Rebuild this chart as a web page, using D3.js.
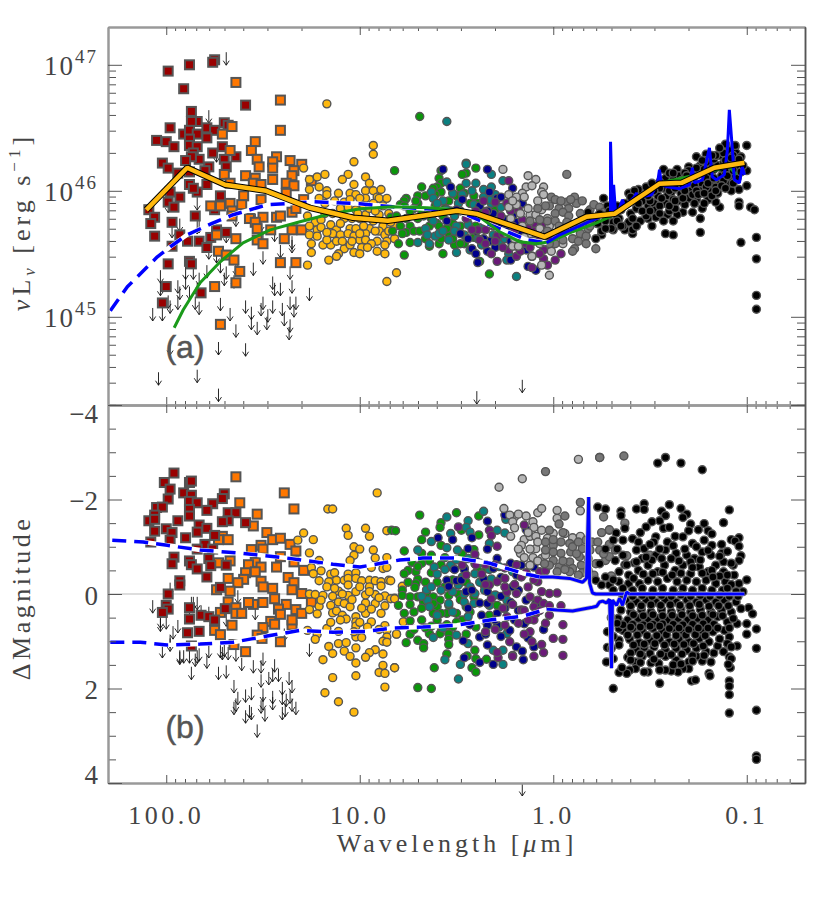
<!DOCTYPE html>
<html>
<head>
<meta charset="utf-8">
<script src="https://cdn.jsdelivr.net/npm/d3@7"></script>
<style>
body { margin: 0; background: #fff; }
text { font-family: "Liberation Serif", serif; fill: #444; }
</style>
</head>
<body>
<div id="chart"></div>
<script>
// all points are [log10 wavelength (um), value]; value is log10 vLv in panel a, delta mag in panel b
const redA = [[1.75,47.04],[1.76,47.02],[1.88,47.00],[1.99,46.95],[1.91,46.81],[1.59,46.68],[1.87,46.63],[1.84,46.55],[1.87,46.55],[1.98,46.50],[1.70,46.54],[1.68,46.52],[1.91,46.45],[1.88,46.48],[1.84,46.45],[1.79,46.50],[1.75,46.48],[1.79,46.42],[1.88,46.41],[2.05,46.40],[2.00,46.39],[1.96,46.35],[1.88,46.36],[1.84,46.35],[1.86,46.30],[1.71,46.35],[1.76,46.30],[1.64,46.27],[1.70,46.25],[1.83,46.25],[1.87,46.27],[1.90,46.24],[2.02,46.22],[1.99,46.18],[1.69,46.19],[1.78,46.19],[1.80,46.16],[1.94,46.14],[1.88,46.15],[1.88,46.05],[1.79,46.05],[1.84,45.99],[1.86,46.02],[1.98,45.99],[1.93,45.95],[1.99,45.91],[1.72,45.96],[1.96,45.87],[2.09,45.85],[1.75,45.85],[2.06,45.79],[1.85,45.80],[2.08,45.74],[1.97,45.75],[2.06,45.64],[1.93,45.65],[1.83,45.60],[1.89,45.60],[1.79,45.55],[1.77,45.63],[1.69,45.67],[1.99,45.42],[1.88,45.44],[1.87,45.42],[2.00,45.24],[2.02,45.11],[1.82,45.19],[1.74,45.69],[1.97,45.56]];
const orangeA = [[1.64,46.86],[1.41,46.72],[1.41,46.48],[1.66,46.51],[1.71,46.45],[1.54,46.39],[1.56,46.32],[1.67,46.32],[1.43,46.27],[1.36,46.24],[1.53,46.25],[1.52,46.19],[1.45,46.23],[1.45,46.18],[1.30,46.21],[1.34,46.16],[1.35,46.12],[1.45,46.09],[1.59,46.12],[1.54,46.10],[1.70,46.13],[1.38,46.06],[1.34,46.04],[1.25,46.08],[1.55,46.06],[1.51,46.05],[1.67,46.06],[1.60,45.96],[1.51,45.93],[1.38,45.98],[1.29,45.93],[1.67,45.90],[1.61,45.89],[1.77,45.88],[1.66,45.84],[1.35,45.83],[1.33,45.86],[1.57,45.78],[1.50,45.79],[1.43,45.79],[1.41,45.80],[1.54,45.75],[1.53,45.70],[1.46,45.69],[1.35,45.69],[1.30,45.69],[1.39,45.62],[1.74,45.65],[1.64,45.62],[1.53,45.61],[1.50,45.58],[1.73,45.52],[1.69,45.49],[1.65,45.45],[1.62,45.36],[1.41,45.43],[1.33,45.43],[1.75,45.24],[1.64,45.27],[1.72,44.94],[1.66,45.80],[1.72,45.88]];
const yellowA = [[1.17,46.69],[1.03,46.23],[1.29,46.18],[1.26,46.09],[1.22,46.11],[1.18,46.13],[1.06,46.13],[1.09,46.09],[1.03,46.05],[1.26,46.01],[1.21,46.03],[1.17,46.0],[1.17,45.97],[1.11,45.98],[1.05,45.98],[1.02,45.97],[1.21,45.94],[1.18,45.90],[1.08,45.91],[1.05,45.93],[1.06,45.87],[1.02,45.85],[1.27,45.80],[1.23,45.75],[1.20,45.77],[1.15,45.73],[1.12,45.69],[1.05,45.70],[1.02,45.70],[1.26,45.72],[1.22,45.69],[1.20,45.71],[1.26,45.65],[1.22,45.64],[1.14,45.66],[1.10,45.65],[1.06,45.66],[1.03,45.64],[1.25,45.58],[1.19,45.57],[1.15,45.57],[1.17,45.61],[1.12,45.60],[1.08,45.54],[1.05,45.57],[1.03,45.51],[1.25,45.51],[1.11,45.50],[1.12,45.48],[1.16,45.45],[1.27,45.41],[1.0,45.61],[.93,46.36],[.93,46.29],[.97,46.11],[.95,46.06],[.97,46.0],[.93,46.0],[.89,46.01],[.91,45.95],[.97,45.94],[.90,45.94],[.86,45.94],[.93,45.90],[1.0,45.94],[.88,45.88],[.97,45.81],[.90,45.81],[1.0,45.78],[.93,45.76],[.88,45.72],[.95,45.70],[.82,45.72],[.90,45.68],[.97,45.66],[.87,45.65],[1.0,45.66],[.97,45.61],[.91,45.60],[.86,45.60],[.82,45.62],[.94,45.58],[.99,45.55],[.96,45.55],[.87,45.57],[.91,45.52],[.87,45.50],[.81,45.35],[.86,45.28],[1.13,45.92],[1.10,45.86],[1.14,45.82],[1.08,45.78],[1.18,45.82],[1.04,45.78],[1.01,45.82],[.98,45.88],[.95,45.86],[.85,45.82],[1.10,45.74],[1.17,45.67],[1.04,45.60],[.98,45.72],[.92,45.68],[.85,45.68],[1.0,45.50],[1.09,45.60],[.92,45.84],[.84,45.75]];
const greenA = [[.69,46.59],[.82,46.16],[.58,46.16],[.40,46.18],[.45,46.22],[.59,46.10],[.68,46.03],[.58,46.06],[.60,46.03],[.58,45.99],[.70,45.96],[.76,45.94],[.77,45.92],[.70,45.90],[.61,45.97],[.54,45.92],[.48,46.02],[.45,46.14],[.47,46.13],[.46,45.98],[.41,45.96],[.39,45.90],[.79,45.89],[.72,45.86],[.61,45.88],[.56,45.86],[.79,45.72],[.74,45.72],[.76,45.67],[.72,45.68],[.69,45.68],[.60,45.74],[.59,45.72],[.84,45.79],[.80,45.58],[.74,45.59],[.77,45.49],[.64,45.56],[.59,45.58],[.57,45.50],[.51,45.57],[.46,45.58],[.54,45.66],[.40,45.72],[.44,45.74],[.33,45.34],[.38,45.44],[.30,45.85],[.77,45.88],[.66,45.82],[.52,45.74],[.62,46.02],[.66,45.96],[.71,45.92],[.74,45.84],[.68,45.84],[.63,45.78],[.57,45.80],[.53,45.84],[.50,45.96],[.43,45.90],[.37,45.84],[.64,45.72],[.55,45.70],[.48,45.72],[.41,45.63],[.66,45.62],[.58,45.62],[.52,45.62],[.48,45.58],[.70,45.78],[.76,45.78],[.81,45.80],[.78,45.66],[.83,45.68]];
const tealA = [[.55,46.55],[.63,45.99],[.62,45.94],[.55,46.07],[.45,46.21],[.45,46.06],[.40,46.06],[.32,46.13],[.32,46.03],[.26,46.08],[.57,45.92],[.49,45.90],[.41,45.89],[.32,45.90],[.27,45.87],[.51,45.80],[.66,45.70],[.65,45.65],[.61,45.64],[.59,45.66],[.50,45.72],[.64,45.58],[.70,45.59],[.54,45.61],[.50,45.51],[.44,45.73],[.37,45.57],[.28,45.58],[.23,45.50],[.24,45.45],[.19,45.32],[.43,45.53],[.33,45.93],[.36,46.01],[.52,45.98],[.60,45.90],[.55,45.85],[.47,45.97],[.42,46.0],[.36,45.95],[.30,45.97],[.62,45.76],[.57,45.68],[.51,45.68],[.46,45.65],[.39,45.62],[.34,45.78],[.67,45.80],[.31,45.65],[.25,45.62],[.48,45.84],[.37,45.70]];
const navyA = [[.57,46.17],[.34,46.17],[.53,46.03],[.21,46.02],[.33,45.99],[.47,45.93],[.16,45.90],[.29,45.94],[.55,45.76],[.36,45.76],[.31,45.82],[.21,45.80],[.33,45.60],[.42,45.54],[.40,45.50],[.39,45.43],[.29,45.64],[.22,45.45],[.09,45.37],[.13,45.40],[.14,45.53],[.48,45.66],[.26,45.70],[.17,45.66],[.50,45.85],[.43,45.80],[.38,45.88],[.34,45.84],[.27,45.95],[.25,45.77],[.44,45.62],[.36,45.62],[.30,45.55],[.22,45.60],[.40,45.68],[.19,45.75],[.16,45.62],[.28,45.72],[.34,45.52],[.24,45.68]];
const purpleA = [[.23,46.08],[.36,45.92],[.30,45.91],[.24,45.90],[.35,45.83],[.45,45.78],[.39,45.69],[.35,45.69],[.42,45.69],[.29,45.64],[.26,45.66],[.38,45.61],[.21,45.72],[.32,45.50],[.29,45.44],[.23,45.53],[.19,45.56],[.19,45.48],[.14,45.58],[.09,45.72],[.11,45.48],[.05,45.53],[.05,45.46],[-.01,45.45],[-.04,45.50],[.11,45.39],[.03,45.41],[.10,45.68],[.16,45.77],[.06,45.73],[.40,45.84],[.33,45.76],[.31,45.72],[.27,45.80],[.23,45.74],[.20,45.68],[.26,45.55],[.18,45.62],[.13,45.70],[.08,45.62],[.12,45.55],[.07,45.50],[.03,45.62],[.35,45.58],[.30,45.60],[.17,45.52],[.22,45.84],[.18,45.85]];
const lightGreyA = [[.26,46.17],[.13,46.12],[.09,46.09],[.14,46.03],[.11,46.04],[.05,46.03],[.06,45.99],[.05,45.97],[.16,45.98],[.23,45.97],[.19,45.95],[.23,45.87],[.19,45.89],[.12,45.81],[.17,45.82],[.09,45.81],[.03,45.78],[.02,45.72],[.07,45.70],[-.03,45.66],[.21,45.56],[.18,45.56],[.11,45.48],[.06,45.41],[.02,45.33],[-.05,45.58],[-.01,45.66],[.21,45.92],[.15,45.95],[.13,45.86],[.08,45.92],[.06,45.85],[.16,45.72],[.22,45.78],[.12,45.66],[.07,45.58],[.01,45.52],[.15,45.63],[.10,45.60],[.04,45.66],[.20,45.62],[.24,45.66]];
const midGreyA = [[-.07,46.13],[-.11,45.95],[.01,45.95],[-.01,45.93],[-.07,45.91],[.02,45.88],[-.03,45.86],[-.08,45.86],[-.12,45.90],[-.01,45.82],[-.05,45.83],[-.08,45.80],[.03,45.76],[-.01,45.76],[.07,45.77],[.12,45.76],[-.10,45.73],[-.14,45.66],[-.17,45.64],[-.22,45.54],[-.11,45.54],[-.10,45.52],[-.05,45.61],[-.19,45.85],[-.21,45.89],[-.24,45.87],[-.20,45.77],[-.26,45.83],[-.28,45.80],[-.15,45.92],[-.18,45.70],[-.16,45.78],[.04,45.88],[.08,45.86],[-.04,45.92],[-.09,45.93],[-.14,45.82],[.03,45.68],[-.03,45.72],[-.07,45.75],[.05,45.60],[-.01,45.58],[-.10,45.62],[-.14,45.74],[-.19,45.72],[-.23,45.74],[.02,45.58],[-.06,45.68],[-.17,45.58],[-.13,45.6]];
const blackA = [[-1.0,46.36],[-.94,46.35],[-.89,46.37],[-.74,46.27],[-.79,46.29],[-.57,46.17],[-.64,46.17],[-.70,46.19],[-1.0,46.16],[-1.0,46.04],[-.96,46.01],[-.96,45.91],[-.96,45.88],[-1.02,45.87],[-1.04,45.85],[-1.05,45.63],[-.97,45.59],[-1.05,45.46],[-1.05,45.17],[-1.05,45.06],[-.86,45.87],[-.84,45.91],[-.76,45.78],[-.76,45.67],[-.62,45.65],[-.58,45.66],[-.72,45.83],[-.67,45.83],[-.64,45.81],[-.59,45.81],[-.62,45.76],[-.57,45.76],[-.53,45.79],[-.51,45.72],[-.49,45.78],[-.45,45.76],[-.41,45.66],[-.37,45.69],[-.31,45.69],[-.25,45.65],[-.22,45.62],
[-.24,45.82],[-.23,45.74],[-.25,45.68],[-.26,45.94],[-.31,45.75],[-.30,45.70],[-.32,45.82],[-.39,45.98],[-.38,45.90],[-.40,45.82],[-.39,45.75],[-.41,45.69],[-.48,46.03],[-.47,45.95],[-.49,45.88],[-.48,45.80],[-.53,46.03],[-.54,45.96],[-.52,45.90],[-.53,45.85],[-.58,46.10],[-.57,46.02],[-.59,45.96],[-.58,45.90],[-.60,45.84],[-.65,46.12],[-.64,46.05],[-.66,45.98],[-.65,45.92],[-.63,45.86],[-.70,46.16],[-.69,46.08],[-.71,46.0],[-.70,45.94],[-.76,46.20],[-.75,46.13],[-.77,46.05],[-.76,46.0],[-.74,45.93],[-.77,45.86],[-.81,46.22],[-.80,46.14],[-.82,46.07],[-.81,46.0],[-.80,45.93],[-.86,46.28],[-.85,46.20],[-.87,46.12],[-.86,46.05],[-.85,45.98],[-.91,46.32],[-.90,46.25],[-.92,46.18],[-.91,46.10],[-.90,46.05],[-.92,46.0],[-.945,46.30],[-.95,46.2],[-.94,46.12],
[-.44,45.93],[-.43,45.86],[-.35,45.85],[-.34,45.78],[-.44,46.01],[-.51,45.99],[-.55,46.07],[-.62,46.09],[-.61,45.99],[-.62,45.93],[-.67,46.02],[-.68,45.89],[-.73,46.11],[-.73,46.04],[-.72,45.97],[-.78,46.17],[-.79,46.10],[-.79,46.03],[-.83,46.25],[-.83,46.17],[-.84,46.03],[-.88,46.30],[-.88,46.22],[-.89,46.15],[-.88,46.08],[-.93,46.28],[-.94,46.22],[-.97,46.27],[-.28,45.88],[-.20,45.78],[-.18,45.83],
[-.27,45.76],[-.29,45.84],[-.33,45.88],[-.36,45.72],[-.43,45.72],[-.46,45.84],[-.46,45.92],[-.42,46.0],[-.50,45.84],[-.50,45.92],[-.51,46.06],[-.55,45.88],[-.56,45.94],[-.55,45.82],[-.60,45.88],[-.60,46.0],[-.61,46.06],[-.60,46.14],[-.63,45.92],[-.63,46.02],[-.66,46.08],[-.67,45.94],[-.68,46.0],[-.68,46.14],[-.72,46.12],[-.73,45.9],[-.74,46.18],[-.74,46.0],[-.75,45.97],[-.78,45.98],[-.78,45.9],[-.78,46.24],[-.80,46.06],[-.82,46.18],[-.82,45.96],[-.83,46.1],[-.84,46.0],[-.84,46.28],[-.87,46.18],[-.87,46.04],[-.89,46.24],[-.89,46.02],[-.90,46.12],[-.92,46.26],[-.93,46.16],[-.93,46.06],[-.95,46.1],[-.96,46.25],[-.97,46.15],[-.98,46.2],[-.94,46.36],[-.86,46.34],[-.82,46.28],[-.77,46.24],[-.69,46.12],[-.62,46.14],[-.55,46.02],[-.52,46.0],[-.49,45.96],[-.44,45.9],[-.40,45.95],[-.37,45.9],[-.33,45.76],[-.27,45.7],[-.41,45.78],[-.35,45.72]];
const arrowsA = [[1.69,47.10],[1.78,46.64],[1.74,46.33],[1.84,45.95],[1.99,45.93],[1.93,45.78],[1.83,45.77],[1.97,45.73],[1.84,45.76],[1.64,45.82],[1.54,45.82],[1.51,45.78],[1.44,45.70],[1.50,45.68],[1.35,45.64],[1.41,45.57],[1.35,45.61],[1.50,45.52],[1.36,45.40],[1.78,45.56],[1.74,45.53],[1.69,45.69],[1.64,45.43],[1.55,45.43],[1.63,45.44],[1.69,45.40],[2.03,45.37],[1.90,45.40],[1.86,45.40],[1.79,45.41],[1.72,45.45],[1.70,45.35],[1.65,45.33],[1.45,45.32],[1.35,45.29],[1.41,45.27],[1.44,45.27],[1.26,45.23],[2.03,45.27],[1.94,45.29],[1.93,45.24],[1.99,45.17],[1.90,45.32],[1.83,45.35],[1.84,45.27],[1.94,45.16],[1.88,45.24],[1.85,45.16],[1.83,45.12],[1.72,45.15],[1.67,45.07],[1.59,45.13],[1.56,45.08],[1.50,45.16],[1.51,45.11],[1.45,45.13],[1.475,45.06],[1.40,45.11],[1.36,45.16],[1.33,45.16],[1.34,45.10],[1.39,45.03],[1.48,45.0],[1.56,45.0],[1.53,44.96],[1.64,44.94],[1.36,44.98],[1.365,44.92],[2.07,45.07],[2.02,45.07],[1.98,45.13],[1.98,44.80],[1.73,44.80],[1.59,44.79],[2.04,44.56],[1.84,44.58],[1.73,44.43],[.395,44.41],[.16,44.50]];

const redB = [[1.96,-2.56],[2.01,-2.36],[1.88,-2.36],[1.87,-2.39],[1.98,-2.22],[1.91,-2.14],[1.99,-2.01],[1.87,-2.09],[1.88,-1.96],[1.84,-1.93],[1.76,-1.91],[1.70,-2.12],[1.71,-2.02],[2.05,-1.83],[2.02,-1.84],[1.88,-1.79],[1.79,-1.77],[1.68,-1.72],[1.64,-1.72],[2.06,-1.67],[2.09,-1.55],[2.06,-1.58],[1.94,-1.55],[1.88,-1.65],[1.59,-1.51],[1.68,-1.55],[1.71,-1.53],[2.0,-1.38],[1.97,-1.30],[2.06,-1.33],[1.83,-1.46],[1.79,-1.39],[1.75,-1.24],[1.90,-1.19],[1.98,-1.14],[1.84,-1.31],[2.08,-1.10],[1.80,-1.05],[1.76,-.95],[1.84,-.95],[1.96,-.78],[1.97,-.64],[1.88,-.70],[1.87,-.62],[1.84,-.53],[1.78,-.75],[1.77,-.60],[1.69,-.61],[1.79,-.36],[1.93,-.28],[1.93,-.19],[1.99,0],[1.72,-.14],[2.0,.24],[1.99,.32],[2.02,.39],[1.88,.29],[1.88,.53],[1.82,.45],[1.78,.48],[1.75,.55],[1.695,.31],[1.89,.82],[1.83,.79],[1.87,1.10]];
const orangeB = [[1.64,-2.48],[1.39,-2.14],[1.34,-1.80],[1.62,-1.93],[1.53,-1.69],[1.55,-1.44],[1.48,-1.30],[1.45,-1.15],[1.41,-1.18],[1.36,-1.05],[1.33,-.91],[1.51,-1.03],[1.50,-.95],[1.56,-.94],[1.71,-1.22],[1.68,-1.15],[1.73,-1.15],[1.41,-.79],[1.43,-.57],[1.34,-.68],[1.67,-.70],[1.73,-.66],[1.54,-.67],[1.575,-.62],[1.51,-.57],[1.54,-.47],[1.59,-.45],[1.60,-.31],[1.68,-.33],[1.63,-.24],[1.51,-.27],[1.50,-.15],[1.29,-.50],[1.37,-.35],[1.34,-.24],[1.35,-.09],[1.45,-.12],[1.74,-.09],[1.67,-.06],[1.30,-.01],[1.25,.17],[1.44,.10],[1.50,.18],[1.55,.22],[1.575,.18],[1.68,.17],[1.64,.29],[1.64,.41],[1.61,.41],[1.38,.22],[1.42,.32],[1.41,.43],[1.33,.33],[1.30,.41],[1.72,.39],[1.66,.66],[1.46,.58],[1.44,.64],[1.50,.71],[1.35,.66],[1.35,.55],[1.75,.77],[1.72,.86],[1.53,.87],[1.505,.94],[1.41,1.01],[1.65,1.07],[1.59,1.22]];
const yellowB = [[.91,-2.14],[1.165,-1.80],[1.14,-1.80],[1.29,-1.29],[1.07,-1.39],[.97,-1.39],[.86,-1.34],[1.06,-1.24],[.95,-1.22],[1.24,-1.15],[1.32,-1.14],[1.03,-1.0],[1.0,-.95],[.93,-.93],[1.26,-.87],[1.03,-.82],[1.05,-.71],[.92,-.76],[.86,-.77],[1.21,-.71],[1.25,-.56],[1.20,-.49],[1.24,-.43],[1.15,-.42],[1.13,-.45],[.94,-.56],[.88,-.54],[.86,-.56],[1.06,-.42],[1.02,-.45],[1.21,-.28],[1.12,-.29],[1.08,-.29],[1.06,-.33],[1.02,-.33],[.99,-.28],[.95,-.29],[.92,-.28],[.89,-.26],[.85,-.29],[1.16,-.26],[1.17,-.15],[1.06,-.19],[.95,-.15],[.89,-.17],[1.11,-.06],[1.26,0],[1.23,.01],[1.19,.03],[1.06,.03],[1.02,-.05],[.92,.01],[.87,.04],[.82,.09],[1.21,.26],[1.20,.13],[1.15,.24],[1.11,.17],[1.08,.20],[1.05,.27],[.97,.19],[.92,.20],[.87,.25],[1.26,.33],[1.22,.42],[1.14,.40],[1.12,.36],[1.09,.45],[1.02,.48],[.97,.41],[.89,.41],[1.07,.53],[1.02,.59],[.94,.59],[.96,.70],[1.02,.68],[.87,.67],[1.17,.73],[1.27,.77],[1.22,.85],[1.11,.79],[1.02,.91],[.99,.92],[.86,.77],[.86,.91],[.81,.85],[1.23,.96],[.88,1.0],[.86,1.02],[1.16,1.11],[1.11,1.05],[1.07,1.03],[1.08,1.21],[1.02,1.14],[1.14,1.26],[1.05,1.32],[.92,1.18],[.95,1.24],[.88,1.27],[.97,1.34],[1.19,1.39],[1.02,1.46],[.88,1.51],[.90,1.66],[.87,1.68],[.82,1.56],[1.14,1.77],[1.02,1.73],[.87,1.97],[1.18,2.09],[1.11,2.28],[1.03,2.50],[.78,-.165],[.775,.59],[.81,.85],[.82,1.56],[.84,.1],[.82,.1],[1.0,-.15],[.97,.02],[1.13,-.12],[1.09,0],[1.04,.12],[1.14,.05],[.99,.3],[.9,.08],[.94,.32],[1.0,.6],[1.1,.55],[1.15,.6],[1.03,.8],[.9,.75],[.95,-.05],[.84,-.28]];
const greenB = [[.69,-1.67],[.50,-1.72],[.385,-1.65],[.58,-1.51],[.585,-1.41],[.66,-1.31],[.835,-1.35],[.815,-1.34],[.68,-1.15],[.385,-1.25],[.475,-1.35],[.77,-.91],[.68,-.86],[.63,-.82],[.58,-1.03],[.56,-.77],[.41,-.94],[.73,-.67],[.64,-.70],[.75,-.50],[.77,-.43],[.71,-.47],[.70,-.31],[.71,-.22],[.715,-.14],[.78,-.08],[.78,.03],[.74,.06],[.80,.24],[.74,.22],[.70,.06],[.655,-.01],[.62,.06],[.67,.17],[.64,.24],[.585,.13],[.54,.03],[.49,0],[.60,.27],[.55,.41],[.62,.41],[.58,.41],[.77,.41],[.72,.38],[.74,.57],[.68,.55],[.63,.68],[.52,.70],[.74,.85],[.64,.84],[.585,.84],[.54,.84],[.76,1.03],[.70,.98],[.67,1.05],[.67,1.14],[.54,.96],[.54,1.07],[.405,1.19],[.55,1.27],[.445,1.31],[.40,1.37],[.345,1.38],[.615,1.56],[.42,1.56],[.40,1.65],[.70,1.98],[.63,2.0],[.41,.06],[.43,.38],[.39,-.50],[.345,-.54],[.405,-.64],[.29,.24],[.50,.41],[.45,.27],[.68,-.65],[.63,-.45],[.58,-.62],[.52,-.55],[.47,-.85],[.66,-.25],[.60,-.25],[.56,-.15],[.52,-.30],[.45,-.25],[.75,-.25],[.68,.30],[.60,.55],[.55,.65],[.47,.55],[.66,.72],[.58,.70],[.50,.6],[.72,.75],[.45,.85],[.40,.7],[.36,-.2],[.33,.45],[.70,-.58],[.48,.12],[.62,.2],[.54,.24]];
const tealB = [[.55,-1.63],[.36,-1.75],[.44,-1.55],[.53,-1.28],[.45,-1.41],[.43,-1.31],[.63,-1.11],[.55,-.98],[.495,-.93],[.245,-1.58],[.29,-1.35],[.25,-1.29],[.33,-1.07],[.70,-.93],[.615,-.57],[.53,-.61],[.44,-.75],[.405,-.43],[.21,-.47],[.655,-.09],[.63,-.15],[.65,.13],[.54,.2],[.58,-.08],[.355,-.08],[.405,-.01],[.43,-.15],[.24,.13],[.46,.17],[.64,.27],[.62,.92],[.50,.87],[.44,1.05],[.56,1.39],[.48,1.49],[.31,1.19],[.26,1.19],[.26,1.49],[.49,1.80],[.24,.84],[.33,.24],[.49,-.19],[.47,-.36],[.41,.2],[.60,-.42],[.56,-.52],[.50,-.72],[.46,-.55],[.38,-.65],[.33,-.52],[.28,-.58],[.52,-.05],[.46,0],[.38,-.25],[.32,-.32],[.30,.02],[.60,.45],[.52,.38],[.44,.48],[.36,.55],[.28,.7],[.68,.05],[.57,.72]];
const navyB = [[.34,-1.54],[.25,-1.67],[.14,-1.36],[.595,-1.19],[.52,-1.15],[.42,-1.19],[.34,-.95],[.44,-.96],[.29,-.75],[.51,-.52],[.31,-.54],[.165,-.61],[.10,-.57],[.55,-.29],[.54,-.16],[.50,-.28],[.475,-.29],[.45,-.05],[.38,.19],[.34,.20],[.21,-.15],[.18,-.08],[.14,.13],[.29,.41],[.15,.63],[.29,.66],[.34,.66],[.05,.75],[.465,.99],[.225,.77],[.13,.93],[.38,.91],[.34,1.08],[.10,1.12],[.19,1.12],[.16,1.21],[.155,1.39],[.21,1.30],[.31,1.49],[.38,1.45],[.46,1.35],[.46,-.52],[.40,-.70],[.36,-.32],[.27,-.35],[.22,-.65],[.19,-.4],[.42,-.08],[.34,-.05],[.27,.05],[.22,.18],[.18,.35],[.37,.45],[.30,.55],[.25,.3],[.2,.55],[.44,.3],[.09,.2],[.35,.85],[.27,.9],[.43,.65]];
const purpleB = [[.15,-1.46],[.33,-1.35],[.49,-1.42],[.32,-1.24],[.29,-1.01],[.47,-.61],[.405,-.84],[.45,-.40],[.37,-.42],[.29,-.26],[.25,-.33],[.165,-.36],[.07,-.47],[.04,-.49],[.08,-.26],[.33,-.19],[.24,-.04],[.19,-.01],[.12,.06],[.08,.13],[.02,-.01],[-.02,-.02],[.10,.27],[.05,.2],[-.04,.25],[.165,.34],[.09,.41],[.35,.80],[.25,.66],[.10,.55],[.04,.62],[-.05,.65],[.12,.80],[0,.94],[-.05,.96],[.11,1.01],[.06,1.07],[.05,1.24],[.21,1.32],[-.05,1.30],[.10,1.32],[.285,1.35],[.29,1.24],[.225,1.01],[.24,.48],[.40,-.62],[.35,-.62],[.30,-.62],[.25,-.55],[.19,-.62],[.14,-.45],[.10,-.30],[.35,-.2],[.25,-.15],[.20,-.2],[.13,-.15],[.06,-.05],[.32,.1],[.26,.3],[.21,.22],[.15,.35],[.13,.55],[.07,.35],[.02,.25],[.30,.75],[.18,.62],[.15,.85],[.02,.45]];
const lightGreyB = [[.28,-2.26],[.16,-2.44],[-.13,-2.85],[-.24,-2.89],[.255,-1.81],[.20,-1.63],[.18,-1.69],[.14,-1.65],[.08,-1.72],[.06,-1.81],[-.02,-1.77],[-.02,-1.60],[.225,-1.67],[.21,-1.53],[.105,-1.53],[.10,-1.41],[.15,-1.15],[.22,-1.22],[.12,-1.22],[.09,-1.22],[0,-1.28],[-.06,-1.28],[-.10,-1.19],[-.14,-1.22],[.165,-1.03],[.17,-.86],[.09,-.96],[.06,-.75],[.08,-1.10],[.15,-.77],[.105,-.77],[.12,-.61],[-.14,-1.76],[.2,-1.4],[.13,-1.3],[.06,-1.35],[.18,-.95],[.03,-1.18],[.12,-.95],[.04,-.82],[.08,-.7]];
const midGreyB = [[.04,-2.59],[-.03,-1.48],[-.06,-1.65],[-.14,-1.94],[.02,-1.35],[.04,-1.10],[0,-1.03],[-.04,-1.10],[-.085,-1.07],[-.15,-.96],[-.09,-.89],[-.04,-.86],[0,-.89],[.04,-.93],[0,-.71],[-.03,-.57],[-.085,-.68],[-.135,-.79],[.02,-.61],[-.10,-.54],[-.145,-.61],[-.02,-.47],[-.085,-.47],[.045,-.64],[-.17,-1.14],[-.19,-.93],[-.26,-1.63],[-.29,-1.35],[-.24,-.93],[-.27,-.71],[-.30,-.36],[-.22,-.64],[-.24,-2.89],[-.365,-2.92],[-.37,-1.50],[-.29,-1.36],[-.50,-.82],[-.38,-.81],[-.30,-.38],[-.32,-.93],[-.29,-.79],[0,-1.15],[-.05,-1.3],[-.1,-1.0],[-.13,-1.1],[-.05,-.7],[-.12,-.85],[-.18,-.75],[-.2,-1.1],[-.15,-.45],[-.23,-1.1],[-.26,-.85],[-.29,-1.05],[-.25,-1.3],[-.21,-.4],[-.06,-.52],[-.13,-.4],[-.18,-.5]];
const blackB = [[-.54,-2.77],[-.58,-2.89],[-.66,-2.77],[-.77,-2.63],[-.47,-1.91],[-.43,-1.80],[-.47,-1.79],[-.23,-1.84],[-.27,-1.80],[-.35,-1.75],[-.35,-1.66],[-.60,-1.89],[-.56,-1.75],[-.58,-1.66],[-.66,-1.81],[-.69,-1.69],[-.67,-1.62],[-.91,-1.78],[-.88,-1.51],[-.55,-1.55],[-.51,-1.53],[-.71,-1.48],[-.78,-1.49],[-.75,-1.36],[-.80,-1.34],[-.82,-1.27],[-.48,-1.42],[-.57,-1.39],[-.60,-1.41],[-.70,-1.34],[-.37,-1.39],[-.325,-1.29],[-.45,-1.30],[-.63,-1.22],[-.67,-1.21],[-.53,-1.21],[-.92,-1.15],[-.96,-1.19],[-.94,-1.12],[-.96,-1.01],[-.87,-1.05],[-.82,-1.03],[-.78,-1.14],[-.72,-1.07],[-.59,-1.10],[-.52,-1.10],[-.41,-1.17],[-.36,-1.14],[-.31,-1.14],[-.97,-.81],[-.87,-.86],[-.96,-.71],[-.93,-.61],[-.88,-.68],[-.815,-.82],[-.77,-.89],[-.73,-.75],[-.69,-.82],[-.635,-.86],[-.58,-.93],[-.53,-.82],[-.47,-.96],[-.43,-.93],[-.36,-.82],[-.32,-.71],[-.24,-.64],[-1.0,-.30],[-.88,-.47],[-.935,-.40],[-.96,-.22],[-.84,-.61],[-.80,-.47],[-.755,-.57],[-.71,-.43],[-.67,-.61],[-.63,-.50],[-.575,-.61],[-.54,-.47],[-.49,-.61],[-.44,-.50],[-.39,-.40],[-.34,-.47],[-.27,-.36],[-.22,-.29],[-.89,-.26],[-.84,-.22],[-.79,-.29],[-.74,-.26],[-.69,-.29],[-.64,-.26],[-.59,-.33],[-.54,-.26],[-.49,-.29],[-.445,-.22],[-.39,-.22],[-.34,-.26],[-.29,-.19],[-.25,-.19],
[-.875,-.08],[-.82,-.08],[-.77,-.12],[-.72,-.08],[-.67,-.12],[-.62,-.08],[-.565,-.12],[-.515,-.08],[-.46,-.12],[-.41,-.08],[-.36,-.12],[-.31,-.08],
[-.945,.17],[-.885,.13],[-.84,.17],[-.79,.12],[-.74,.17],[-.69,.12],[-.635,.17],[-.58,.12],[-.53,.17],[-.48,.12],[-.43,.17],[-.375,.13],
[-1.01,.29],[-.97,.31],[-.92,.38],[-.87,.34],[-.815,.38],[-.76,.33],[-.71,.38],[-.66,.33],[-.61,.38],[-.56,.33],[-.505,.38],[-.455,.33],[-.40,.38],[-.35,.34],
[-1.0,.63],[-.95,.63],[-.90,.59],[-.85,.48],[-.80,.55],[-.745,.52],[-.695,.55],[-.645,.52],[-.59,.55],[-.54,.52],[-.49,.55],[-.44,.52],[-.385,.55],[-.335,.52],
[-1.05,.74],[-1.0,.85],[-.885,.77],[-.825,.80],[-.77,.77],[-.72,.73],[-.67,.78],[-.62,.73],[-.565,.78],[-.515,.73],[-.46,.78],[-.41,.73],[-.36,.77],[-.34,.73],[-.28,.80],
[-.805,1.01],[-.755,.94],[-.70,1.01],[-.65,.96],[-.60,1.01],[-.55,.96],[-.50,.98],[-.445,1.03],[-.395,.96],[-.34,.98],[-.91,.91],[-.90,1.05],[-.95,1.10],[-.92,1.12],
[-1.05,1.15],[-.88,1.22],[-.79,1.22],[-.74,1.15],[-.69,1.19],[-.635,1.15],[-.58,1.19],[-.52,1.12],[-.47,1.13],[-.43,1.19],[-.34,1.08],[-.28,1.13],
[-.91,1.33],[-.92,1.37],[-.815,1.44],[-.77,1.42],[-.74,1.32],[-.70,1.44],[-.635,1.40],[-.58,1.32],[-.545,1.47],[-.505,1.46],[-.46,1.32],[-.425,1.44],[-.385,1.34],[-.31,1.37],[-.275,1.44],
[-.915,1.56],[-.905,1.49],[-.805,1.68],[-.81,1.73],[-.70,1.58],[-.67,1.58],[-.645,1.65],[-.61,1.63],[-.58,1.61],[-.55,1.61],[-.49,1.65],[-.47,1.65],[-.425,1.58],[-.395,1.61],[-.38,1.68],[-.34,1.66],[-.355,1.56],
[-.31,2.0],[-.55,1.89],[-.715,1.84],[-.735,1.82],[-.91,1.84],[-.91,1.95],[-.91,2.13],[-.91,2.52],[-1.05,2.46],[-1.05,3.43],[-1.05,3.50],[-.91,.72],[-.93,.52],[-1.03,.42],
[-.46,-.75],[-.51,-.72],[-.56,-.75],[-.61,-.75],[-.65,-.70],[-.71,-.68],[-.76,-.72],[-.82,-.50],[-.86,-.38],[-.92,-.20],[-.98,-.05],[-.945,-.05],[-.90,-.12],[-.42,-.66],[-.37,-.62],[-.31,-.30],[-.415,-.33],[-.465,-.42],[-.515,-.43],[-.565,-.46],[-.615,-.40],[-.66,-.44],[-.72,-.56],[-.77,-.44],[-.825,-.36],
[-.36,.05],[-.41,.05],[-.46,.03],[-.51,.05],[-.56,.03],[-.61,.05],[-.66,.02],[-.71,.05],[-.76,.03],[-.81,.05],[-.86,.03],[-.91,.05],[-.955,.05],
[-.40,.25],[-.455,.25],[-.505,.23],[-.555,.24],[-.605,.23],[-.655,.24],[-.705,.25],[-.755,.22],[-.805,.26],[-.855,.25],[-.905,.25],
[-.415,.44],[-.465,.46],[-.515,.44],[-.565,.46],[-.615,.45],[-.665,.44],[-.72,.46],[-.77,.45],[-.825,.44],[-.875,.46],
[-.36,.65],[-.41,.64],[-.465,.65],[-.515,.64],[-.565,.63],[-.62,.64],[-.67,.65],[-.72,.64],[-.775,.63],[-.83,.64],
[-.385,.87],[-.435,.87],[-.485,.88],[-.535,.88],[-.585,.86],[-.635,.88],[-.685,.87],[-.735,.86],[-.785,.88],
[-.415,1.08],[-.47,1.06],[-.525,1.05],[-.575,1.08],[-.625,1.06],[-.675,1.07],[-.725,1.05],[-.775,1.1],[-.40,1.25],[-.45,1.27],[-.5,1.26],[-.555,1.27],[-.61,1.28],[-.665,1.27],[-.72,1.3],
[-.38,-.62],[-.43,-.68],[-.48,-.78],[-.55,-.95],[-.62,-1.02],[-.68,-.95],[-.74,-1.0],[-.8,-.92],[-.86,-.8],[-.44,-1.1],[-.5,-1.05],[-.33,-.95],[-.27,-.95],[-.9,-.9],[-.92,-.65],[-.9,-.4],[-.3,.5],[-.33,.62],[-.31,.9],[-.3,1.15],[-.4,1.4],[-.45,1.45],[-.52,1.38],[-.62,1.5],[-.66,1.48],[-.72,1.42],[-.78,1.3],[-.83,1.25],[-.85,1.1],[-.86,.95],[-.8,.72],[-.85,.72],[-.75,.72],[-.7,.75],[-.65,.72],[-.6,.73],[-.55,.68],[-.5,.68],[-.45,.7],[-.4,.7]];
const arrowsB = [[1.98,-.24],[2.07,.13],[2.03,.45],[2.0,.47],[2.03,.52],[1.965,.68],[1.94,.55],[1.98,.87],[1.98,.94],[2.02,1.08],[1.84,.06],[1.86,.06],[1.87,.06],[1.63,-.08],[1.54,.27],[1.39,.73],[1.26,1.05],[1.93,1.19],[1.93,1.22],[1.91,1.19],[1.88,1.19],[1.84,1.19],[1.83,1.15],[1.85,1.26],[1.79,1.30],[1.78,1.08],[1.73,1.54],[1.69,1.51],[1.87,1.54],[1.72,1.08],[1.71,1.12],[1.70,1.05],[1.68,1.12],[1.64,1.15],[1.61,1.35],[1.55,1.40],[1.51,1.40],[1.50,1.24],[1.44,1.38],[1.42,1.58],[1.365,1.65],[1.51,1.70],[1.47,1.65],[1.45,1.58],[1.65,1.82],[1.63,2.07],[1.59,2.02],[1.56,1.97],[1.64,2.21],[1.65,2.28],[1.50,2.0],[1.50,2.18],[1.51,2.25],[1.45,2.05],[1.45,2.18],[1.40,1.86],[1.35,1.82],[1.40,2.07],[1.38,2.11],[1.36,2.04],[1.35,2.21],[1.33,2.28],[1.385,2.32],[1.40,2.39],[1.57,2.35],[1.59,2.46],[1.56,2.39],[1.49,2.42],[1.53,2.76],[1.74,.59],[1.69,.41],[1.78,.27],[1.82,.24],[1.88,.24],[.16,4.0]];

// composite curves
const meanCurve = [[2.103,45.849],[1.892,46.183],[1.696,46.048],[1.484,46.0],[1.257,45.865],[1.035,45.786],[.855,45.762],[.498,45.841],[.395,45.817],[.044,45.635],[-.172,45.794],[-.317,45.817],[-.549,46.056],[-.663,46.063],[-.833,46.183],[-.988,46.222]];
const greenCurve = [[1.959,44.913],[1.912,45.056],[1.825,45.270],[1.721,45.437],[1.603,45.587],[1.463,45.690],[1.309,45.754],[1.169,45.810],[.999,45.857],[.829,45.873],[.653,45.865],[.498,45.849],[.395,45.810],[.277,45.675],[.173,45.595],[.086,45.579],[.019,45.595],[-.100,45.675],[-.224,45.746],[-.317,45.810],[-.549,46.063],[-.652,46.095],[-.910,46.190],[-.946,46.127]];
const blueDashA = [[2.289,45.048],[2.201,45.238],[2.046,45.476],[1.979,45.556],[1.892,45.651],[1.757,45.746],[1.654,45.810],[1.479,45.889],[1.241,45.913],[.999,45.897],[.829,45.873],[.653,45.857],[.498,45.841],[.364,45.754],[.261,45.690],[.137,45.611],[.034,45.587]];
const blueSolidA = [[.034,45.587],[-.033,45.651],[-.172,45.746],[-.275,45.817],[-.296,45.825],[-.296,46.389],[-.306,45.825],[-.312,46.048],[-.322,45.825],[-.343,45.865],[-.358,45.929],[-.369,45.873],[-.420,45.952],[-.430,45.984],[-.436,45.944],[-.508,45.968],[-.539,46.063],[-.549,46.167],[-.559,46.048],[-.590,46.032],[-.652,46.016],[-.704,46.048],[-.719,46.183],[-.730,46.063],[-.771,46.087],[-.807,46.341],[-.822,46.111],[-.843,46.087],[-.884,46.127],[-.900,46.325],[-.910,46.643],[-.926,46.325],[-.936,46.087],[-.962,46.063],[-.977,46.190],[-.988,46.127]];
const upperDash = [[2.279,-1.14],[2.119,-1.10],[1.995,-1.03],[1.825,-.93],[1.603,-.86],[1.376,-.76],[1.138,-.63],[.999,-.57],[.793,-.72],[.674,-.76],[.498,-.76],[.328,-.65],[.158,-.44],[.070,-.36]];
const upperSolid = [[.070,-.36],[.003,-.36],[-.085,-.33],[-.152,-.25],[-.172,-.33],[-.183,-2.05],[-.188,-.23],[-.203,-.02],[-.219,0],[-.988,0]];
const lowerDash = [[2.289,1.02],[2.134,1.02],[1.995,1.08],[1.825,1.06],[1.654,1.02],[1.479,.89],[1.309,.77],[1.138,.81],[.963,.79],[.829,.72],[.674,.70],[.498,.66],[.328,.55],[.158,.47],[.034,.32]];
const lowerSolid = [[.034,.32],[-.018,.34],[-.100,.36],[-.203,.28],[-.224,.26],[-.239,.17],[-.255,.15],[-.275,.19],[-.291,.11],[-.301,1.57],[-.306,.13],[-.327,.24],[-.343,.09],[-.358,.24],[-.379,-.04],[-.394,0]];

const xMajor = [100, 10, 1, 0.1];
const xLabels = ["100.0", "10.0", "1.0", "0.1"];
const yMajorA = [1e45, 1e46, 1e47];
const yExpA = ["45", "46", "47"];
const yMajorB = [-4, -2, 0, 2, 4];

const left = 108, right = 805, topA = 27, midY = 405, botB = 783;

const svg = d3.select("#chart").append("svg")
    .attr("width", 830)
    .attr("height", 900);

const x = d3.scaleLog().domain([200, 0.05]).range([left, right]);
const yA = d3.scaleLog().domain([Math.pow(10, 44.3), Math.pow(10, 47.3)]).range([midY, topA]);
const yB = d3.scaleLinear().domain([-4, 4]).range([midY, botB]);

const px = d => x(Math.pow(10, d[0]));
const pyA = d => yA(Math.pow(10, d[1]));
const pyB = d => yB(d[1]);

const stroke = "#555";

function squares(data, fill, py) {
  svg.append("g").selectAll("rect").data(data).join("rect")
    .attr("x", d => px(d) - 4.5).attr("y", d => py(d) - 4.5)
    .attr("width", 9).attr("height", 9)
    .attr("fill", fill).attr("stroke", stroke).attr("stroke-width", 2);
}

function circles(data, fill, py) {
  svg.append("g").selectAll("circle").data(data).join("circle")
    .attr("cx", px).attr("cy", py).attr("r", 4)
    .attr("fill", fill).attr("stroke", stroke).attr("stroke-width", 1.4);
}

function arrows(data, py) {
  svg.append("g").selectAll("path").data(data).join("path")
    .attr("d", d => {
      const ax = px(d), ay = py(d);
      return `M${ax},${ay}V${ay + 13}M${ax - 3},${ay + 8.5}L${ax},${ay + 13}L${ax + 3},${ay + 8.5}`;
    })
    .attr("fill", "none").attr("stroke", "#111").attr("stroke-width", 0.9);
}

function curve(data, py, color, width, dash) {
  const line = d3.line().x(px).y(py);
  const p = svg.append("path").datum(data)
    .attr("d", line).attr("fill", "none")
    .attr("stroke", color).attr("stroke-width", width)
    .attr("stroke-linejoin", "bevel");
  if (dash) p.attr("stroke-dasharray", dash);
}

// zero line of panel b
svg.append("line")
  .attr("x1", left).attr("x2", right)
  .attr("y1", yB(0)).attr("y2", yB(0))
  .attr("stroke", "#ddd").attr("stroke-width", 2);

// panel a
arrows(arrowsA, pyA);
squares(redA, "#990000", pyA);
squares(orangeA, "#ff7700", pyA);
circles(yellowA, "#ffb90f", pyA);
circles(greenA, "#0a960a", pyA);
circles(tealA, "#0a8080", pyA);
circles(navyA, "#00008b", pyA);
circles(purpleA, "#6a1a78", pyA);
circles(lightGreyA, "#b5b5b5", pyA);
circles(midGreyA, "#777", pyA);
circles(blackA, "#000", pyA);

// panel b
arrows(arrowsB, pyB);
squares(orangeB, "#ff7700", pyB);
squares(redB, "#990000", pyB);
circles(yellowB, "#ffb90f", pyB);
circles(greenB, "#0a960a", pyB);
circles(tealB, "#0a8080", pyB);
circles(navyB, "#00008b", pyB);
circles(purpleB, "#6a1a78", pyB);
circles(lightGreyB, "#b5b5b5", pyB);
circles(midGreyB, "#777", pyB);
circles(blackB, "#000", pyB);

// curves on top of the points
curve(blueDashA, pyA, "#fff", 4.5);
curve(blueDashA, pyA, "#0000ff", 3.5, "14,8");
curve(greenCurve, pyA, "#1a9a1a", 3);
curve(blueSolidA, pyA, "#0000ff", 3);
curve(meanCurve, pyA, "#000", 6.5);
curve(meanCurve, pyA, "#ffb90f", 4.5);

[upperDash, lowerDash].forEach(c => {
  curve(c, pyB, "#fff", 4.5);
  curve(c, pyB, "#0000ff", 3.5, "14,8");
});
[upperSolid, lowerSolid].forEach(c => {
  curve(c, pyB, "#bbb", 4.5);
  curve(c, pyB, "#0000ff", 3);
});

// axes
const logMinor = [];
[-2, -1, 0, 1, 2].forEach(k => d3.range(2, 10).forEach(m => {
  const v = m * Math.pow(10, k);
  if (v <= 200 && v >= 0.05 && !xMajor.includes(v)) logMinor.push(v);
}));
const yMinorA = [];
[44, 45, 46, 47].forEach(k => d3.range(2, 10).forEach(m => {
  const v = m * Math.pow(10, k);
  if (v >= yA.domain()[0] && v <= yA.domain()[1]) yMinorA.push(v);
}));
const yMinorB = [-3.5, -3, -2.5, -1.5, -1, -0.5, 0.5, 1, 1.5, 2.5, 3, 3.5];

function addAxis(axis, tx, ty) {
  const g = svg.append("g").attr("transform", `translate(${tx},${ty})`).call(axis);
  g.select(".domain").attr("stroke", "#999").attr("stroke-width", 2);
  g.selectAll(".tick line").attr("stroke", "#555").attr("stroke-width", 1);
  g.selectAll(".tick text").remove();
  return g;
}

function xAxes(gen, ty) {
  addAxis(gen(x).tickValues(logMinor).tickSize(-4).tickSizeOuter(0), 0, ty);
  addAxis(gen(x).tickValues(xMajor).tickSize(-8).tickSizeOuter(0), 0, ty);
}
xAxes(d3.axisTop, topA);
xAxes(d3.axisBottom, midY);
xAxes(d3.axisTop, midY);
xAxes(d3.axisBottom, botB);

function yAxes(scale, minor, major) {
  addAxis(d3.axisLeft(scale).tickValues(minor).tickSize(-8).tickSizeOuter(0), left, 0);
  addAxis(d3.axisLeft(scale).tickValues(major).tickSize(-14).tickSizeOuter(0), left, 0);
  const r1 = addAxis(d3.axisRight(scale).tickValues(minor).tickSize(-8).tickSizeOuter(0), right, 0);
  const r2 = addAxis(d3.axisRight(scale).tickValues(major).tickSize(-14).tickSizeOuter(0), right, 0);
  r1.select(".domain").attr("stroke", "#555").attr("stroke-width", 1.5);
  r2.select(".domain").attr("stroke", "#555").attr("stroke-width", 1.5);
}
yAxes(yA, yMinorA, yMajorA);
yAxes(yB, yMinorB, yMajorB);

// tick labels
svg.append("g").selectAll("text").data(xMajor).join("text")
  .attr("x", d => x(d)).attr("y", 824)
  .attr("text-anchor", "middle")
  .attr("font-size", 26).attr("letter-spacing", 3.5)
  .text((d, i) => xLabels[i]);

yMajorA.forEach((v, i) => {
  const t = svg.append("text")
    .attr("x", 98).attr("y", yA(v) + 10)
    .attr("text-anchor", "end")
    .attr("font-size", 27).attr("letter-spacing", 2);
  t.append("tspan").text("10");
  t.append("tspan").attr("dy", -12).attr("font-size", 19).text(yExpA[i]);
});

const bLabelY = {"-4": 423, "-2": 510, "0": 605, "2": 699, "4": 784};
svg.append("g").selectAll("text").data(yMajorB).join("text")
  .attr("x", 98).attr("y", d => bLabelY[d])
  .attr("text-anchor", "end")
  .attr("font-size", 27)
  .text(d => d < 0 ? "\u2212" + Math.abs(d) : d);

// axis titles
const ytA = svg.append("text")
  .attr("transform", "translate(30,222) rotate(-90)")
  .attr("text-anchor", "middle")
  .attr("font-size", 26).attr("letter-spacing", 4);
ytA.append("tspan").attr("font-style", "italic").text("\u03BD");
ytA.append("tspan").text("L");
ytA.append("tspan").attr("dy", 5).attr("font-size", 17).attr("font-style", "italic").text("\u03BD");
ytA.append("tspan").attr("dy", -5).text(" [erg s");
ytA.append("tspan").attr("dy", -10).attr("font-size", 17).text("\u22121");
ytA.append("tspan").attr("dy", 10).text("]");

svg.append("text")
  .attr("transform", "translate(30,598) rotate(-90)")
  .attr("text-anchor", "middle")
  .attr("font-size", 26).attr("letter-spacing", 3.5)
  .text("\u0394Magnitude");

const xt = svg.append("text")
  .attr("x", 457).attr("y", 852)
  .attr("text-anchor", "middle")
  .attr("font-size", 26).attr("letter-spacing", 4);
xt.append("tspan").text("Wavelength [");
xt.append("tspan").attr("font-style", "italic").text("\u03BC");
xt.append("tspan").text("m]");

// panel letters
[["(a)", 358], ["(b)", 738]].forEach(d => {
  svg.append("text")
    .attr("x", 185).attr("y", d[1])
    .attr("text-anchor", "middle")
    .style("font-family", "'Liberation Sans', sans-serif")
    .style("fill", "#555")
    .style("stroke", "#555")
    .style("stroke-width", 0.5)
    .attr("font-size", 32)
    .text(d[0]);
});
</script>
</body>
</html>
